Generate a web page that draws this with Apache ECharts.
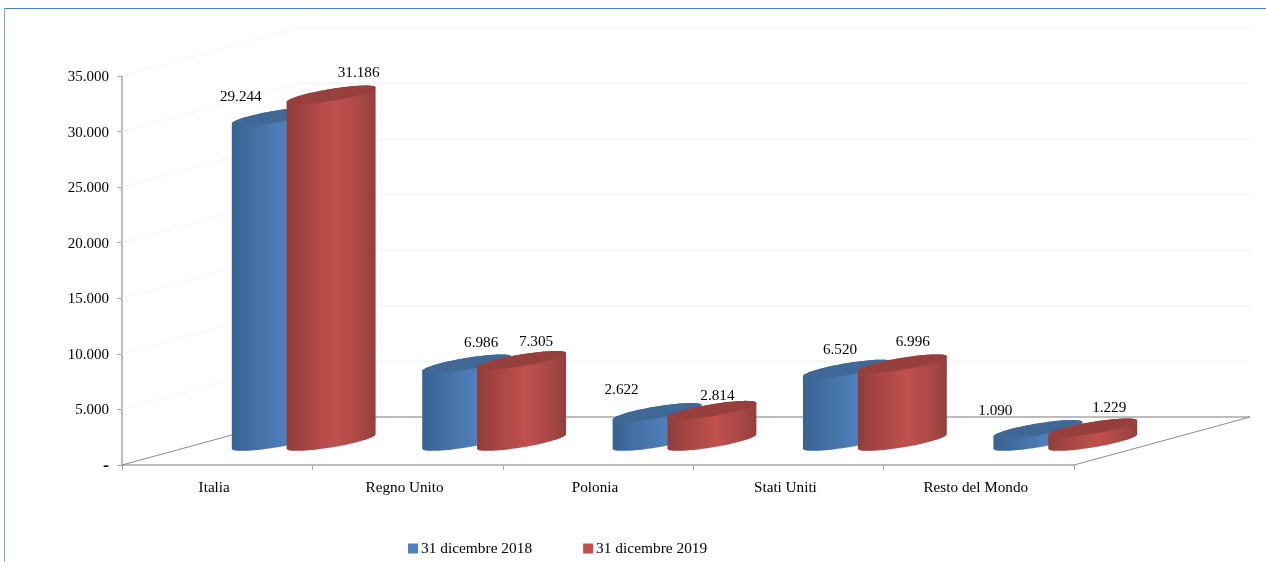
<!DOCTYPE html>
<html>
<head>
<meta charset="utf-8">
<style>html,body{margin:0;padding:0;background:#fff}#c{width:1266px;height:562px}</style>
<script src="https://cdn.jsdelivr.net/npm/echarts@6/dist/echarts.min.js"></script>
</head>
<body>
<div id="c"></div>
<script>
const categories = ['Italia', 'Regno Unito', 'Polonia', 'Stati Uniti', 'Resto del Mondo'];
const seriesNames = ['31 dicembre 2018', '31 dicembre 2019'];
const values2018 = [29244, 6986, 2622, 6520, 1090];
const values2019 = [31186, 7305, 2814, 6996, 1229];
const yTicks = [0, 5000, 10000, 15000, 20000, 25000, 30000, 35000];

// Style / layout constants of the 3D look
const FONT = '"Liberation Serif", serif';
const DEPTH = [176, -48];          // wall/floor depth vector in px
const BAR_DEPTH = 0.39;            // cylinder diameter as a share of the depth
const BAR_U = 0.297;               // cylinder diameter along x as a share of the band
const BAR_SHIFT = 0.144;           // series shift from band centre as a share of the band
const BAR_NUDGE = [-1.5, 0.5];     // small offset of the cylinder row on the floor
const labelOffsets2018 = [[-35.5,-19.5],[14.5,-20.5],[-35.5,-22.5],[-7.5,-19.5],[-42.5,-18.5]];
const labelOffsets2019 = [[27.5,-21.5],[14.5,-18.5],[5.5,-14.5],[10.5,-21.5],[16.5,-19.5]];

const fmt = v => v === 0 ? '{b|-}' : String(v).replace(/\B(?=(\d{3})+$)/g, '.');

function gradient(stops) {
  return new echarts.graphic.LinearGradient(0, 0, 1, 0, stops.map(s => ({offset: s[0], color: s[1]})));
}

function cylinder(sign, stops, topColor, offsets) {
  return function (params, api) {
    const i = api.value(0), v = api.value(1);
    const band = api.size([1, 0])[0];
    const top = api.coord([i, v]), base = api.coord([i, 0]);
    const sx = sign * band * BAR_SHIFT + DEPTH[0] / 2 + BAR_NUDGE[0];
    const sy = DEPTH[1] / 2 + BAR_NUDGE[1];
    const a = band * BAR_U / 2, b = DEPTH[0] * BAR_DEPTH / 2, e = DEPTH[1] * BAR_DEPTH / 2;
    const t0 = Math.atan2(b, a), N = 60;
    const pt = (c, t) => [c[0] + sx + a * Math.cos(t) + b * Math.sin(t), c[1] + sy + e * Math.sin(t)];
    const body = [], face = [];
    for (let k = 0; k <= N; k++) body.push(pt(base, t0 + Math.PI + Math.PI * k / N));
    for (let k = 0; k <= N; k++) body.push(pt(top, t0 + Math.PI * k / N));
    for (let k = 0; k < 2 * N; k++) face.push(pt(top, t0 + Math.PI * k / N));
    const off = offsets[i];
    return {
      type: 'group',
      children: [
        {type: 'polygon', shape: {points: body}, style: {fill: gradient(stops)}},
        {type: 'polygon', shape: {points: face}, style: {fill: topColor}},
        {type: 'text', z2: 100, style: {
          text: fmt(v), x: top[0] + sx + off[0], y: top[1] + sy + off[1],
          align: 'center', verticalAlign: 'middle', font: '15.2px ' + FONT, fill: '#000'
        }}
      ]
    };
  };
}

function wallsAndFloor(params, api) {
  const cs = params.coordSys;
  const v = api.value(0);
  const y = api.coord([0, v])[1];
  const x0 = cs.x, x1 = cs.x + cs.width;
  const bx = x0 + DEPTH[0], by = y + DEPTH[1], ex = x1 + DEPTH[0];
  if (v === 0) {
    return {type: 'group', children: [
      {type: 'line', shape: {x1: x0, y1: y, x2: bx, y2: by}, style: {stroke: '#8c8c8c', lineWidth: 1}},
      {type: 'line', shape: {x1: bx, y1: by, x2: ex, y2: by}, style: {stroke: '#a6a6a6', lineWidth: 1.5}},
      {type: 'line', shape: {x1: x1, y1: y, x2: ex, y2: by}, style: {stroke: '#8c8c8c', lineWidth: 1}}
    ]};
  }
  return {type: 'group', children: [
    {type: 'line', shape: {x1: x0, y1: y, x2: bx, y2: by}, style: {stroke: '#eaeff6', lineWidth: 1.2, lineDash: [2, 2]}},
    {type: 'line', shape: {x1: bx, y1: by, x2: ex, y2: by}, style: {stroke: '#f1f4f9', lineWidth: 1.5}}
  ]};
}

const blueStops = [[0, '#386291'], [0.3, '#4571a6'], [0.62, '#4f81bd'], [1, '#4573a8']];
const redStops = [[0, '#8f3d3a'], [0.25, '#a84744'], [0.55, '#c0504d'], [0.8, '#ab4946'], [1, '#933f3c']];

const chart = echarts.init(document.getElementById('c'), null, {renderer: 'canvas'});
chart.setOption({
  animation: false,
  backgroundColor: '#fff',
  textStyle: {fontFamily: FONT},
  grid: {left: 122, right: 192, top: 76, bottom: 97, containLabel: false},
  graphic: [
    {type: 'line', silent: true, shape: {x1: 4, y1: 8.5, x2: 1266, y2: 8.5}, style: {stroke: '#4a7ebb', lineWidth: 1}},
    {type: 'line', silent: true, shape: {x1: 4.5, y1: 8, x2: 4.5, y2: 562}, style: {stroke: '#7aa3d4', lineWidth: 1}}
  ],
  legend: {
    left: 408, top: 541, padding: 0, icon: 'rect', itemWidth: 10, itemHeight: 10, itemGap: 51,
    textStyle: {fontFamily: FONT, fontSize: 15.4, color: '#000', padding: [0, 0, 0, -2]},
    data: [
      {name: seriesNames[0], itemStyle: {color: '#4f81bd'}},
      {name: seriesNames[1], itemStyle: {color: '#c0504d'}}
    ]
  },
  xAxis: {
    type: 'category', data: categories, boundaryGap: true,
    axisLine: {lineStyle: {color: '#a6a6a6', width: 1.5}},
    axisTick: {show: true, length: 5, lineStyle: {color: '#a6a6a6'}},
    axisLabel: {color: '#000', fontSize: 15.2, fontFamily: FONT, margin: 16, padding: [0, 6, 0, 0], interval: 0},
    splitLine: {show: false}
  },
  yAxis: {
    type: 'value', min: 0, max: 35000, interval: 5000,
    axisLine: {show: true, lineStyle: {color: '#a6a6a6', width: 1.5}},
    axisTick: {show: true, length: 5, lineStyle: {color: '#a6a6a6'}},
    axisLabel: {color: '#000', fontSize: 15, fontFamily: FONT, margin: 13, padding: [2, 0, 0, 0], formatter: fmt,
      rich: {b: {fontSize: 18, fontWeight: 'bold', fontFamily: FONT, color: '#000'}}},
    splitLine: {show: false}
  },
  series: [
    {type: 'custom', name: 'walls', silent: true, clip: false, z: 1, coordinateSystem: 'cartesian2d',
     data: yTicks.map(v => [v]), encode: {y: 0}, renderItem: wallsAndFloor},
    {type: 'custom', name: seriesNames[0], silent: true, clip: false, z: 2,
     itemStyle: {color: '#4f81bd'},
     data: values2018.map((v, i) => [i, v]), encode: {x: 0, y: 1},
     renderItem: cylinder(-1, blueStops, '#3f6896', labelOffsets2018)},
    {type: 'custom', name: seriesNames[1], silent: true, clip: false, z: 3,
     itemStyle: {color: '#c0504d'},
     data: values2019.map((v, i) => [i, v]), encode: {x: 0, y: 1},
     renderItem: cylinder(1, redStops, '#963f3c', labelOffsets2019)}
  ]
});
</script>
</body>
</html>
